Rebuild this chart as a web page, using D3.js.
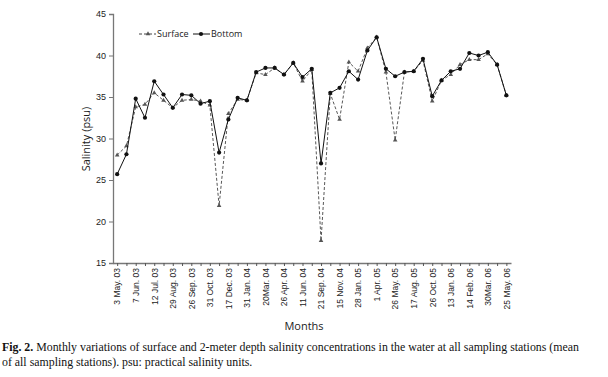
<!DOCTYPE html>
<html>
<head>
<meta charset="utf-8">
<script src="https://cdn.jsdelivr.net/npm/d3@7"></script>
<style>
  body { margin: 0; background: #fff; }
  svg { display: block; }
</style>
</head>
<body>
<div id="wrapper"></div>
<script>
'use strict';

// sampling dates (labels only on every other one)
const tickLabels = ['3 May. 03', '7 Jun. 03', '12 Jul. 03', '29 Aug. 03', '26 Sep. 03', '31 Oct. 03',
  '17 Dec. 03', '31 Jan. 04', '20Mar. 04', '26 Apr. 04', '11 Jun. 04', '21 Sep. 04', '15 Nov. 04',
  '28 Jan. 05', '1 Apr. 05', '26 May. 05', '17 Aug. 05', '26 Oct. 05', '13 Jan. 06', '14 Feb. 06',
  '30Mar. 06', '25 May. 06'];

const surface = [28.0, 29.1, 33.8, 34.1, 35.5, 34.6, 33.7, 34.6, 34.7, 34.5, 34.0, 21.9, 33.0, 34.7,
  34.6, 37.9, 37.7, 38.5, 37.7, 39.1, 36.9, 38.3, 17.7, 35.4, 32.3, 39.2, 38.1, 40.9, 42.2, 38.0,
  29.8, 38.0, 38.1, 39.4, 34.5, 37.0, 37.7, 38.9, 39.5, 39.5, 40.2, 38.9, 35.2];

const bottom = [25.7, 28.1, 34.8, 32.5, 36.9, 35.3, 33.7, 35.3, 35.2, 34.2, 34.5, 28.3, 32.3, 34.9,
  34.6, 38.0, 38.5, 38.5, 37.7, 39.1, 37.4, 38.4, 27.0, 35.5, 36.1, 38.1, 37.1, 40.6, 42.2, 38.4,
  37.5, 38.0, 38.1, 39.6, 35.1, 37.0, 38.1, 38.4, 40.3, 40.0, 40.4, 38.9, 35.2];

const yTicks = [15, 20, 25, 30, 35, 40, 45];

const width = 608;
const height = 377;
const plot = { left: 113, right: 511, top: 14, bottom: 263 };

const xScale = d3.scaleLinear()
  .domain([-0.45, 42.5])
  .range([plot.left, plot.right]);

const yScale = d3.scaleLinear()
  .domain([15, 45])
  .range([plot.bottom, plot.top]);

const svg = d3.select('#wrapper')
  .append('svg')
  .attr('width', width)
  .attr('height', height)
  .style('font-family', '"Open Sans", sans-serif');

// y axis
const yAxis = svg.append('g')
  .attr('transform', `translate(${plot.left},0)`)
  .call(d3.axisLeft(yScale).tickValues(yTicks).tickSize(4).tickPadding(3));
yAxis.select('.domain').attr('stroke', '#777').attr('stroke-width', 1.3);
yAxis.selectAll('.tick line').attr('stroke', '#777');
yAxis.selectAll('.tick text').attr('font-size', 9).attr('fill', '#222');

// x axis - a tick on every sample, label on every other one
const xAxis = svg.append('g')
  .attr('transform', `translate(0,${plot.bottom})`)
  .call(d3.axisBottom(xScale)
    .tickValues(d3.range(bottom.length))
    .tickSize(3)
    .tickSizeOuter(0)
    .tickFormat(i => i % 2 === 0 ? tickLabels[i / 2] : ''));
xAxis.select('.domain').attr('stroke', '#777').attr('stroke-width', 1.3);
xAxis.selectAll('.tick line').attr('stroke', '#555');
xAxis.selectAll('.tick text')
  .attr('font-size', 8.5)
  .attr('fill', '#222')
  .attr('transform', 'rotate(-90)')
  .attr('text-anchor', 'end')
  .attr('x', -5)
  .attr('y', 0)
  .attr('dy', '0.33em');

const line = d3.line()
  .x((d, i) => xScale(i))
  .y(d => yScale(d));

// surface: dashed line with triangles
svg.append('path')
  .attr('d', line(surface))
  .attr('fill', 'none')
  .attr('stroke', '#444')
  .attr('stroke-width', 0.9)
  .attr('stroke-dasharray', '3,2');

const triangle = d3.symbol().type(d3.symbolTriangle).size(9);
svg.append('g')
  .selectAll('path')
  .data(surface)
  .join('path')
  .attr('d', triangle)
  .attr('transform', (d, i) => `translate(${xScale(i)},${yScale(d)})`)
  .attr('fill', '#555');

// bottom: solid line with dots
svg.append('path')
  .attr('d', line(bottom))
  .attr('fill', 'none')
  .attr('stroke', '#111')
  .attr('stroke-width', 1);

svg.append('g')
  .selectAll('circle')
  .data(bottom)
  .join('circle')
  .attr('cx', (d, i) => xScale(i))
  .attr('cy', d => yScale(d))
  .attr('r', 2.1)
  .attr('fill', '#111');

// legend
const legend = svg.append('g').attr('transform', 'translate(0,34)');
legend.append('line')
  .attr('x1', 139).attr('x2', 156)
  .attr('stroke', '#444').attr('stroke-dasharray', '3,2');
legend.append('path')
  .attr('d', triangle)
  .attr('transform', 'translate(148,0)')
  .attr('fill', '#555');
legend.append('text')
  .attr('x', 157).attr('dy', '0.35em')
  .attr('font-size', 9).attr('fill', '#222')
  .text('Surface');
legend.append('line')
  .attr('x1', 193).attr('x2', 210)
  .attr('stroke', '#111');
legend.append('circle')
  .attr('cx', 201).attr('r', 2.1)
  .attr('fill', '#111');
legend.append('text')
  .attr('x', 211).attr('dy', '0.35em')
  .attr('font-size', 9).attr('fill', '#222')
  .text('Bottom');

// axis titles
svg.append('text')
  .attr('transform', 'translate(90,139) rotate(-90)')
  .attr('text-anchor', 'middle')
  .attr('font-size', 11)
  .attr('fill', '#222')
  .text('Salinity (psu)');

svg.append('text')
  .attr('x', 304).attr('y', 330)
  .attr('text-anchor', 'middle')
  .attr('font-size', 11)
  .attr('fill', '#222')
  .text('Months');

// figure caption
const caption = svg.append('text')
  .attr('font-family', '"Liberation Serif", "Times New Roman", serif')
  .attr('font-size', 11.85)
  .attr('fill', '#111');
const line1 = caption.append('tspan').attr('x', 2).attr('y', 351);
line1.append('tspan').attr('font-weight', 'bold').text('Fig. 2.');
line1.append('tspan').text(' Monthly variations of surface and 2-meter depth salinity concentrations in the water at all sampling stations (mean');
caption.append('tspan').attr('x', 2).attr('y', 366)
  .text('of all sampling stations). psu: practical salinity units.');
</script>
</body>
</html>
